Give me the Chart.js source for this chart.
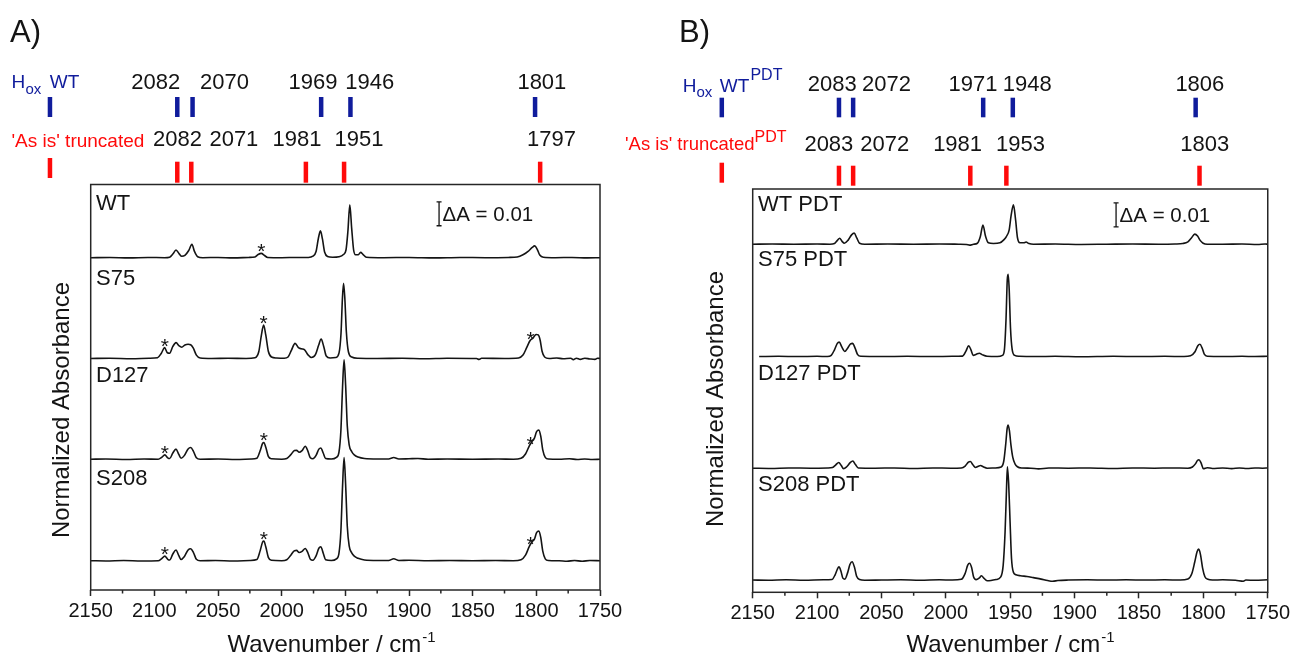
<!DOCTYPE html>
<html>
<head>
<meta charset="utf-8">
<script src="https://cdn.jsdelivr.net/npm/chart.js@4.4.1/dist/chart.umd.min.js"></script>
<style>
  html, body { margin: 0; padding: 0; background: #fff; }
  #wrap { position: relative; width: 1293px; height: 657px; overflow: hidden; background: #fff; }
  #wrap canvas { position: absolute; top: 0; }
  #cA { left: 0; }
  #cB { left: 610px; }
</style>
</head>
<body>
<div id="wrap">
  <canvas id="cA"></canvas>
  <canvas id="cB"></canvas>
</div>
<script>
// ---- data (wavenumber in cm-1, absorbance in mOD above each trace's baseline) ----
const xTickLabels = [2150, 2100, 2050, 2000, 1950, 1900, 1850, 1800, 1750];

const namesA = ['WT', 'S75', 'D127', 'S208'];
const namesB = ['WT PDT', 'S75 PDT', 'D127 PDT', 'S208 PDT'];

// stacking offsets of the traces (mOD)
const offsetsA = [138.5, 96.5, 54.5, 12.2];
const offsetsB = [145, 98.2, 51.7, 5.1];

// reference bands
const hoxWT = [2082, 2070, 1969, 1946, 1801];
const asIsA = [2082, 2071, 1981, 1951, 1797];
const hoxPDT = [2083, 2072, 1971, 1948, 1806];
const asIsB = [2083, 2072, 1981, 1953, 1803];

// bands marked with * in panel A
const asterisksA = [[2016], [2091.8, 2014.2, 1804.5], [2091.8, 2014, 1804.5], [2091.8, 2014, 1804.5]];

const scaleBarMilli = 10; // ΔA = 0.01

const wtA = [
  [2150,0],[2135,0.1],[2120,-0.1],[2105,0.1],[2092,0],
  [2088,0.2],[2085.5,1.5],[2083,3.2],[2080.5,1.6],[2078.5,0.6],
  [2076,1.0],[2073,3.0],[2070.5,5.6],[2068.5,2.6],[2066,0.4],[2062,0],
  [2050,0.1],[2038,-0.1],[2026,0.1],
  [2021,0.3],[2018.5,1.3],[2016,1.8],[2013.5,0.9],[2011,0.1],
  [2000,0],[1988,0.1],[1979,0.1],
  [1975.5,0.6],[1973,2.6],[1971.2,8.0],[1969.6,11.2],[1968,7.8],[1966.3,2.4],[1964,0.5],[1960,0.2],
  [1955,0.4],[1951.5,1.3],[1949.5,3.2],[1948,11],[1946.5,22],[1945,12],[1943.5,3.2],[1942,1.2],
  [1940,1.2],[1938,2.2],[1936.2,1.4],[1933.5,0.2],
  [1920,0],[1900,0.1],[1880,-0.1],[1860,0.1],[1840,0],[1822,0.1],
  [1815,0.3],[1810.5,1.2],[1806.5,2.6],[1803.2,4.3],[1801.3,4.9],[1799.3,3.5],[1797.3,1.1],[1794.5,0.2],
  [1785,0],[1772,0.1],[1760,-0.1],[1750,0]
];
const s75A = [
  [2150,0],[2135,0.1],[2118,-0.1],[2104,0.1],[2097.5,0.3],[2094.5,2.2],[2092,4.5],[2089.8,2.4],[2088,2.2],
  [2085.5,5.0],[2083,6.6],[2080.5,5.2],[2078.5,4.7],[2076,5.6],[2073.5,5.9],[2071.5,5.7],[2069.5,4.4],[2067,1.4],[2064,0.2],
  [2055,0],[2042,0.1],[2028,0],[2021,0.3],[2018,2.8],[2016,9.5],[2014.2,13.9],[2012.5,9.8],[2010.5,3.0],[2008,0.6],[2004,0.2],
  [1998,0.1],[1995,0.6],[1992.3,3.5],[1989.5,6.3],[1986.8,4.5],[1984.5,4.0],[1982,3.6],[1979.5,1.6],[1976.8,0.4],
  [1973.5,1.6],[1971,5.5],[1969,8.1],[1967,5.0],[1965,1.0],[1962,0.2],[1957.5,0.4],[1955,2.2],[1953.4,10.5],[1952.3,25],[1951.4,31.3],[1950.4,25],[1949.2,11],[1947.6,2.8],[1945,0.6],[1940,0.1],
  [1925,0],[1905,0.1],[1888,-0.1],[1870,0.1],[1847,0],[1845,-0.4],[1843,0.1],[1825,0],[1814,0.2],
  [1810.5,1.4],[1807.5,4.6],[1805,7.4],[1802.5,8.6],[1800.2,10.0],[1798.5,9.8],[1797,7.6],[1795.5,3.0],[1793.5,0.6],[1790,0],
  [1784,0.2],[1779,-0.1],[1773,0.1],[1771,-0.5],[1768.5,0.1],[1765.5,-0.4],[1762,0.1],[1758,-0.2],[1754,-0.4],[1752,0.1],[1750,0]
];
const d127A = [
  [2150,0],[2138,0.1],[2122,-0.1],[2108,0.1],[2097,0],[2094.2,0.8],[2091.8,1.8],[2089.5,0.6],[2088,0.3],
  [2085.5,2.6],[2083,4.2],[2080.8,2.0],[2079,0.4],[2076.5,1.5],[2073.5,4.3],[2071.5,4.9],[2069.3,3.3],[2067,0.6],[2064,0],
  [2050,0.1],[2036,-0.1],[2024,0.1],[2019.5,0.4],[2017,3.4],[2015,6.6],[2014,7.0],[2012.5,5.0],[2010.5,1.2],[2008,0.2],
  [2000,0],[1996,0.3],[1993,1.8],[1990,3.6],[1988.3,3.7],[1986.3,2.9],[1984,3.6],[1981.5,5.4],[1979.5,3.5],[1977.5,0.6],[1975.5,0.2],
  [1973,1.6],[1970.8,4.2],[1969.3,4.7],[1967.3,2.5],[1965.5,0.3],[1961,0.1],[1957,0.8],[1955,3.0],[1953.5,12],[1952.2,30],[1951,41.4],[1949.8,31],[1948.5,14],[1947,6],[1945,3.2],[1943,1.8],[1940,0.9],[1935,0.3],
  [1925,0.1],[1916,0.1],[1912,0.7],[1908,0.1],[1900,0.2],[1893,0.3],[1885,0],[1870,0.1],[1850,0],[1830,0.1],[1818,0],
  [1812,0.4],[1808.5,2.2],[1805.5,5.6],[1803.5,7.3],[1801.5,8.8],[1799.8,11.5],[1798,12.2],[1796.5,9.5],[1795,4.0],[1793,0.8],[1790.5,0.1],
  [1782,0],[1774,0.2],[1768,-0.1],[1762,0.1],[1756,-0.1],[1750,0]
];
const s208A = [
  [2150,0],[2138,-0.1],[2124,0.1],[2110,-0.1],[2097,0],[2094.2,0.9],[2091.8,1.9],[2089.5,0.6],[2088,0.3],
  [2085.5,2.8],[2083,4.5],[2080.8,2.1],[2079,0.5],[2076.5,1.7],[2073.5,4.5],[2071.5,5.0],[2069.3,3.4],[2067,0.6],[2064,0],
  [2052,0.1],[2038,-0.1],[2025,0.1],[2019.5,0.5],[2017,4.0],[2015,7.8],[2014,8.2],[2012.5,5.8],[2010.5,1.4],[2008,0.2],
  [2000,0],[1996,0.4],[1993,2.2],[1990,4.2],[1988.3,4.3],[1986.3,3.4],[1984,3.9],[1981.5,5.1],[1979.5,3.4],[1977.5,0.6],[1975.5,0.2],
  [1973,2.0],[1970.8,5.2],[1969.3,5.8],[1967.3,3.0],[1965.5,0.4],[1961,0.1],[1957,0.8],[1955,3.2],[1953.5,12.5],[1952.2,31],[1951,43],[1949.8,32],[1948.5,14.5],[1947,6.2],[1945,3.3],[1943,1.9],[1940,1.0],[1935,0.3],
  [1925,0.1],[1916,0.1],[1912,0.8],[1908,0.1],[1900,0.2],[1885,0],[1868,0.1],[1850,0],[1832,0.1],[1818,0],
  [1812,0.4],[1808.5,2.3],[1805.5,6.0],[1803.5,7.8],[1801.5,9.0],[1799.8,11.7],[1798,12.4],[1796.5,9.6],[1795,4.1],[1793,0.8],[1790.5,0.1],
  [1782,0],[1776,-0.2],[1770,0.1],[1764,-0.2],[1758,0.1],[1750,0]
];

const wtB = [
  [2150,0],[2135,0.1],[2118,0],[2100,0.1],[2090,0],[2086.5,0.3],[2084.2,1.6],[2082.5,2.5],[2080.6,1.2],[2078.8,0.4],[2076,1.6],[2073.2,3.9],[2071.2,4.6],[2069.2,2.6],[2067,0.4],[2063,0],
  [2045,0.1],[2025,0],[2005,0.1],[1990,0],[1984,-0.1],[1981.5,-0.4],[1978.5,0],[1975.5,0.4],[1973.2,3.2],[1971.2,8.0],[1969.2,3.4],[1967,0.6],[1963,0.3],[1958,0.6],[1955,1.8],[1953,3.2],[1950.8,6],[1949.3,12],[1947.5,16.4],[1945.8,10],[1944.4,2.8],[1942.5,0.6],[1939.5,0.6],[1937.7,0.9],[1935.5,0.3],[1932,0],
  [1915,0.1],[1895,-0.1],[1875,0],[1855,0.1],[1835,0],[1822,0.1],[1816,0.3],[1812,1.0],[1809.3,2.6],[1806.7,4.2],[1804.5,3.4],[1802.5,1.6],[1800.2,0.4],[1797,0],
  [1785,0],[1770,0.1],[1758,-0.1],[1752,0.1],[1750,0]
];
const s75B = [
  [2145,0],[2130,0.1],[2115,0],[2100,0.1],[2092,0],[2089,0.5],[2086.5,2.8],[2084.3,5.5],[2082.8,6.0],[2080.8,4.0],[2078.5,2.1],[2076.3,3.5],[2074,5.3],[2072.3,5.5],[2070.5,3.5],[2068.5,0.8],[2066,0.1],
  [2050,0],[2030,0.1],[2010,0],[1995,0.1],[1987,0.2],[1984.3,2.4],[1982.3,4.5],[1980.5,2.8],[1978.8,0.5],[1976.3,1.0],[1974,1.4],[1971.5,0.7],[1968,0.1],[1960,0],[1956,0.5],[1954.5,3],[1953.3,15],[1952.3,32],[1951.6,34.3],[1950.8,28],[1949.8,12],[1948.5,3.0],[1946.5,0.5],[1943,0.1],
  [1930,0],[1915,0.1],[1895,-0.1],[1870,0.1],[1850,0],[1830,0.1],[1815,0],[1810,0.3],[1806.5,2.0],[1804.3,4.5],[1802.7,5.1],[1801,3.6],[1799.3,1.0],[1797,0.1],
  [1785,0],[1770,0.1],[1760,0],[1750,0.1]
];
const d127B = [
  [2150,0],[2136,-0.1],[2122,0.1],[2105,0],[2092,0.1],[2088,0.3],[2085.5,1.4],[2083.2,2.4],[2081.2,1.1],[2079.5,-0.2],[2077,0.6],[2074.3,2.3],[2072.3,3.0],[2070.2,1.5],[2068,0.1],
  [2055,0],[2040,0.1],[2025,-0.1],[2010,0.1],[1996,0],[1988,0.1],[1985,0.9],[1982.5,2.5],[1981,2.8],[1979,1.4],[1977,0.3],[1974.8,0.8],[1973,1.1],[1971,0.6],[1968,0],[1962,0.1],[1957,0.5],[1955,3.0],[1953.5,10],[1952.4,16.5],[1951.6,18],[1950.6,15.5],[1949.4,9.5],[1948,4.5],[1946.3,1.8],[1944.4,0.6],[1941,0.1],
  [1934,0],[1928,-0.3],[1920,0.1],[1905,0],[1888,0.1],[1870,-0.1],[1855,0.1],[1838,0],[1825,0.1],[1812,0],[1808.5,0.5],[1806.2,1.8],[1804.6,3.2],[1803.4,3.5],[1801.8,2.2],[1800,-0.2],[1797,0.2],[1793,-0.1],
  [1785,0.1],[1778,-0.2],[1772,0.1],[1766,-0.1],[1760,0.1],[1754,0],[1750,0.1]
];
const s208B = [
  [2150,0],[2138,-0.1],[2124,0.1],[2110,-0.1],[2095,0.1],[2088.5,0.2],[2086,2.2],[2084.2,4.6],[2083,5.5],[2081.4,3.6],[2080,0.8],[2078.4,0.4],[2076.2,3.2],[2074.5,6.5],[2072.8,7.6],[2071,5.4],[2069.3,1.6],[2067,0.2],[2063,-0.1],
  [2050,0],[2035,0.1],[2020,-0.1],[2005,0.1],[1995,0],[1988,0.3],[1985,2.8],[1983,6.2],[1981.6,7.0],[1980,5.2],[1978.5,1.4],[1976.5,0.2],[1974,0.9],[1972.3,1.8],[1970.5,0.8],[1968,-0.3],[1965,-0.2],[1961,0.2],[1957.5,1.2],[1955.5,6],[1954,20],[1953,36],[1952.2,47.2],[1951.2,40],[1950.1,24],[1949,9],[1947.5,3.2],[1945.5,2.2],[1942,1.8],[1937,1.5],[1932,1.0],[1926,0.4],[1921,-0.2],[1917,-0.5],[1913,-0.2],[1905,0],
  [1890,0.1],[1875,0],[1860,0.1],[1845,0],[1830,0.1],[1818,0],[1812,0.4],[1809,2.6],[1806.7,7.5],[1804.9,11.8],[1803.6,12.9],[1802.2,10.5],[1800.6,5.0],[1798.8,1.4],[1796.5,0.3],[1793,0],
  [1785,0.1],[1775,-0.1],[1769,-0.5],[1767,0],[1760,-0.1],[1750,0.1]
];

const seriesA = [wtA, s75A, d127A, s208A];
const seriesB = [wtB, s75B, d127B, s208B];

// ---- layout (page pixels) ----
const FONT = "'Liberation Sans', Arial, Helvetica, sans-serif";
const BLUE = '#101c9c';
const RED = '#ff0a0a';
const INK = '#141414';

const layoutA = {
  left: 0, width: 640, height: 657, ymax: 169,
  box: { l: 90.7, t: 184.5, r: 600, b: 590 },
  letter: 'A)', letterX: 10,
  yTitle: [62, 410], xTitleX: 331,
  labelX: 96, labelY: [202.5, 277, 374, 477.5],
  bar: { w: 1876.4, v: 151.8 },
  blueMark: [97, 117], redMark: [161.7, 182.7], redLegendMark: [158, 178],
  legendWn: 2182,
  blueBase: 88.5, redBase: 145.8,
  blueShift: [-21.6, 31.9, -8.1, 19.2, 6.8],
  redShift: [0.3, 42.6, -8.9, 14.9, 11.3]
};
const layoutB = {
  left: 610, width: 683, height: 657, ymax: 168,
  box: { l: 752.7, t: 189, r: 1268.7, b: 592.3 },
  letter: 'B)', letterX: 679,
  yTitle: [716, 399], xTitleX: 1010,
  labelX: 758, labelY: [203, 258, 372, 483],
  bar: { w: 1867.8, v: 152.2 },
  blueMark: [97.7, 117.3], redMark: [165.7, 185.7], redLegendMark: [162.7, 182.7],
  legendWn: 2174,
  blueBase: 90.8, redBase: 150.8,
  blueShift: [-6.7, 33.4, -10.2, 14.4, 4.2],
  redShift: [-10.1, 31.7, -12.7, 14.2, 5.2]
};

function font(px) { return px + 'px ' + FONT; }

function nearestValue(series, w) {
  let best = series[0];
  series.forEach(p => { if (Math.abs(p[0] - w) < Math.abs(best[0] - w)) best = p; });
  return best[1];
}

function drawText(ctx, str, x, y, size, color, align) {
  ctx.font = font(size);
  ctx.fillStyle = color;
  ctx.textAlign = align || 'left';
  ctx.textBaseline = 'alphabetic';
  ctx.fillText(str, x, y);
}

function decor(L, names, series, offsets, blueList, redList, isB) {
  return {
    id: 'decor',
    afterDraw(chart) {
      const { ctx, chartArea: a } = chart;
      const xs = chart.scales.x, ys = chart.scales.y;
      const gx = v => v - L.left;
      ctx.save();

      // frame
      ctx.strokeStyle = '#262626';
      ctx.lineWidth = 1.5;
      ctx.strokeRect(a.left, a.top, a.right - a.left, a.bottom - a.top);

      // minor ticks
      ctx.beginPath();
      xs.ticks.forEach(t => {
        if (xTickLabels.includes(t.value)) return;
        const x = xs.getPixelForValue(t.value);
        ctx.moveTo(x, a.bottom);
        ctx.lineTo(x, a.bottom + 3.5);
      });
      ctx.stroke();

      // panel letter
      drawText(ctx, L.letter, gx(L.letterX), 41.5, 31, INK);

      // y title
      ctx.save();
      ctx.translate(gx(L.yTitle[0]), L.yTitle[1]);
      ctx.rotate(-Math.PI / 2);
      ctx.font = font(24);
      ctx.fillStyle = INK;
      ctx.textAlign = 'center';
      ctx.textBaseline = 'middle';
      ctx.fillText('Normalized Absorbance', 0, 0);
      ctx.restore();

      // x title with superscript
      ctx.font = font(24);
      const main = 'Wavenumber / cm';
      const w1 = ctx.measureText(main).width;
      ctx.font = font(15);
      const w2 = ctx.measureText('-1').width;
      const x0 = gx(L.xTitleX) - (w1 + w2) / 2;
      drawText(ctx, main, x0, 652, 24, INK);
      drawText(ctx, '-1', x0 + w1 + 1, 642, 15, INK);

      // trace labels
      names.forEach((n, i) => drawText(ctx, n, gx(L.labelX), L.labelY[i] + 7.8, 22, INK));

      // asterisks (panel A only)
      if (!isB) {
        asterisksA.forEach((list, i) => {
          list.forEach(w => {
            const y = ys.getPixelForValue(offsets[i] + nearestValue(series[i], w)) - 7;
            drawText(ctx, '*', xs.getPixelForValue(w), y + 12, 21, INK, 'center');
          });
        });
      }

      // ΔA scale bar
      const bx = xs.getPixelForValue(L.bar.w);
      const by0 = ys.getPixelForValue(L.bar.v);
      const by1 = ys.getPixelForValue(L.bar.v + scaleBarMilli);
      ctx.strokeStyle = INK;
      ctx.lineWidth = 1.3;
      ctx.beginPath();
      ctx.moveTo(bx, by0); ctx.lineTo(bx, by1);
      ctx.moveTo(bx - 2.5, by0); ctx.lineTo(bx + 2.5, by0);
      ctx.moveTo(bx - 2.5, by1); ctx.lineTo(bx + 2.5, by1);
      ctx.stroke();
      drawText(ctx, 'ΔA = 0.01', bx + 3.5, (by0 + by1) / 2 + 7.3, 20.5, INK);

      // reference band marks
      const mark = (w, yy, color) => {
        const x = xs.getPixelForValue(w);
        ctx.strokeStyle = color;
        ctx.lineWidth = 4.5;
        ctx.beginPath();
        ctx.moveTo(x, yy[0]);
        ctx.lineTo(x, yy[1]);
        ctx.stroke();
      };
      blueList.forEach((w, i) => {
        mark(w, L.blueMark, BLUE);
        drawText(ctx, String(w), xs.getPixelForValue(w) + L.blueShift[i], L.blueBase, 22, INK, 'center');
      });
      redList.forEach((w, i) => {
        mark(w, L.redMark, RED);
        drawText(ctx, String(w), xs.getPixelForValue(w) + L.redShift[i], L.redBase, 22, INK, 'center');
      });
      mark(L.legendWn, L.blueMark, BLUE);
      mark(L.legendWn, L.redLegendMark, RED);

      // legend texts
      if (!isB) {
        drawText(ctx, 'H', gx(11.4), 88.3, 19, BLUE);
        drawText(ctx, 'ox', gx(25.5), 94, 15, BLUE);
        drawText(ctx, 'WT', gx(49.8), 88.3, 19, BLUE);
        drawText(ctx, "'As is' truncated", gx(11.4), 146.7, 19, RED);
      } else {
        drawText(ctx, 'H', gx(682.8), 91.7, 19, BLUE);
        drawText(ctx, 'ox', gx(696.5), 97, 15, BLUE);
        drawText(ctx, 'WT', gx(719.7), 91.7, 19, BLUE);
        drawText(ctx, 'PDT', gx(750.4), 80, 16, BLUE);
        drawText(ctx, "'As is' truncated", gx(754.5), 150, 18.5, RED, 'right');
        drawText(ctx, 'PDT', gx(754.5), 141.7, 16, RED);
      }
      ctx.restore();
    }
  };
}

function makeChart(id, L, names, series, offsets, blueList, redList, isB) {
  const canvas = document.getElementById(id);
  canvas.width = L.width;
  canvas.height = L.height;
  const datasets = series.map((s, i) => ({
    label: names[i],
    data: s.map(p => ({ x: p[0], y: p[1] + offsets[i] })),
    borderColor: INK,
    borderWidth: 1.6,
    pointRadius: 0,
    fill: false,
    cubicInterpolationMode: 'monotone'
  }));
  return new Chart(canvas, {
    type: 'line',
    data: { datasets: datasets },
    options: {
      responsive: false,
      animation: false,
      events: [],
      layout: {
        padding: {
          left: L.box.l - L.left,
          right: L.left + L.width - L.box.r,
          top: L.box.t,
          bottom: L.height - L.box.b - 50
        }
      },
      plugins: { legend: { display: false }, tooltip: { enabled: false } },
      scales: {
        x: {
          type: 'linear',
          reverse: true,
          min: 1750,
          max: 2150,
          afterFit: s => { s.height = 50; },
          border: { display: false },
          grid: {
            drawOnChartArea: false,
            tickLength: 6,
            tickWidth: 1.5,
            tickColor: c => (c.tick && xTickLabels.includes(c.tick.value)) ? '#262626' : 'rgba(0,0,0,0)'
          },
          ticks: {
            stepSize: 25,
            autoSkip: false,
            maxRotation: 0,
            minRotation: 0,
            padding: 3,
            color: INK,
            font: { size: 20, family: FONT },
            callback: v => xTickLabels.includes(v) ? String(v) : ''
          }
        },
        y: { display: false, min: 0, max: L.ymax }
      }
    },
    plugins: [decor(L, names, series, offsets, blueList, redList, isB)]
  });
}

makeChart('cA', layoutA, namesA, seriesA, offsetsA, hoxWT, asIsA, false);
makeChart('cB', layoutB, namesB, seriesB, offsetsB, hoxPDT, asIsB, true);
</script>
</body>
</html>
